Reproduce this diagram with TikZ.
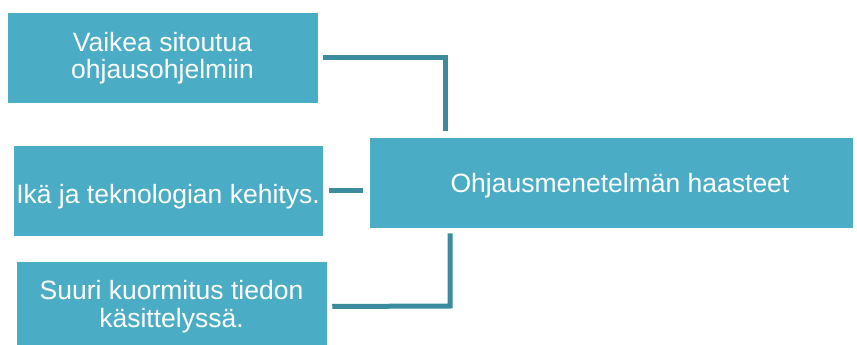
\documentclass[tikz,border=0pt]{standalone}
\usepackage{fontspec}
\setmainfont{Liberation Sans}
\usetikzlibrary{positioning}
\definecolor{boxfill}{RGB}{75,172,198}
\definecolor{linkcol}{RGB}{60,138,158}
\tikzset{
  haaste/.style={rectangle, fill=boxfill, draw=white, line width=0.5pt, text=white,
    minimum width=311pt, minimum height=91pt, align=center,
    font=\fontsize{26.5}{27.5}\selectfont, inner sep=0pt},
  link/.style={draw=linkcol, line width=5pt}
}
\begin{document}
\begin{tikzpicture}[x=1pt, y=-1pt]
          \useasboundingbox (0,0) rectangle (857,345);
          \node[haaste] (b1) at (162.5,58){Vaikea sitoutua\\ohjausohjelmiin};
          \node[haaste, minimum width=310pt, text height=25.6pt, text depth=0pt] (b2) at (168,190.5){Ik\"a ja teknologian kehitys.};
          \node[haaste] (b3) at (171.5,306.5){Suuri kuormitus tiedon\\k\"asittelyss\"a.};
          \node[haaste, minimum width=484pt, text depth=0pt] (main) at (611,182.5){\hspace*{18pt}Ohjausmenetelm\"an haasteet};
          \coordinate (k1) at (445.5,58);
          \coordinate (k3) at (450,306);
          \draw[link, shorten <=5pt, shorten >=6pt](b1.east) -- (k1) -- (k1 |- main.north);
          \draw[link, shorten <=6pt, shorten >=6pt](b2.east) -- (b2.east -| main.west);
          \draw[link, shorten <=5pt, shorten >=5pt](b3.east) -- (k3) -- (k3 |- main.south);
        \end{tikzpicture}
\end{document}
